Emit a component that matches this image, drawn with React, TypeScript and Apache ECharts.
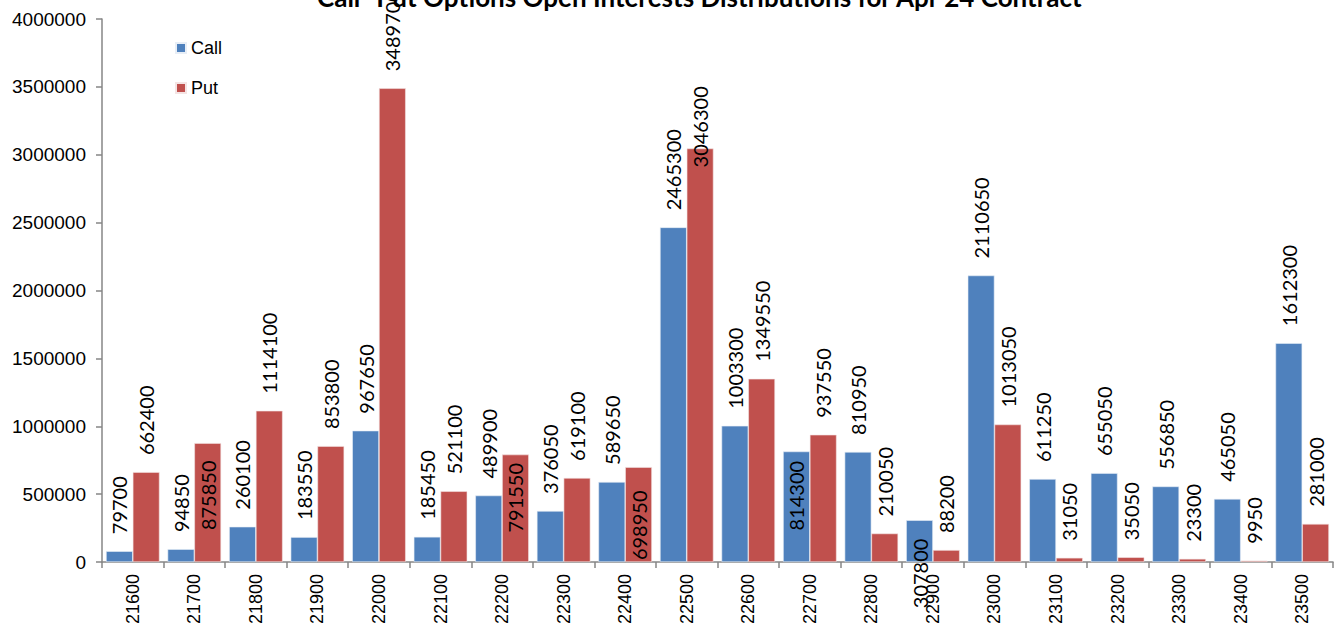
import React, { useEffect, useRef } from "react";
import * as echarts from "echarts";

const strikes = ["21600","21700","21800","21900","22000","22100","22200","22300","22400","22500","22600","22700","22800","22900","23000","23100","23200","23300","23400","23500"];
const callOI = [79700, 94850, 260100, 183550, 967650, 185450, 489900, 376050, 589650, 2465300, 1003300, 814300, 810950, 307800, 2110650, 611250, 655050, 556850, 465050, 1612300];
const putOI = [662400, 875850, 1114100, 853800, 3489700, 521100, 791550, 619100, 698950, 3046300, 1349550, 937550, 210050, 88200, 1013050, 31050, 35050, 23300, 9950, 281000];
const yTicks = { min: 0, max: 4000000, interval: 500000 };
const titleText = "Call -Put Options Open Interests Distributions for Apr 24 Contract";

// label vertical placement relative to bar top (px); default above the bar
const DEFAULT_SHIFT = -17;
const callLabelShift: Record<number, number> = { 11: 79, 13: 88 };
const putLabelShift: Record<number, number> = { 1: 87, 6: 78, 8: 93, 9: 19 };

export default function App() {
  const ref = useRef<HTMLDivElement>(null);
  useEffect(() => {
    if (!ref.current) return;
    const chart = echarts.init(ref.current, undefined, { renderer: "svg" });
    const labelBase = {
      show: true,
      rotate: 90,
      align: "left",
      verticalAlign: "middle",
      fontFamily: "Lato",
      fontSize: 20,
      color: "#000",
    };
    const mk = (vals: number[], shifts: Record<number, number>) =>
      vals.map((v, i) => ({
        value: v,
        label: { position: ["50%", shifts[i] ?? DEFAULT_SHIFT] },
      }));
    chart.setOption({
      animation: false,
      backgroundColor: "#fff",
      title: {
        text: titleText,
        left: 312,
        top: -21,
        textStyle: { fontFamily: "Lato", fontWeight: "bold", fontSize: 26, color: "#000" },
      },
      legend: {
        orient: "vertical",
        left: 170,
        top: 34,
        itemWidth: 10,
        itemHeight: 10,
        itemGap: 22,
        icon: "rect",
        textStyle: { fontFamily: "Liberation Sans", fontSize: 18, color: "#000" },
        data: ["Call", "Put"],
      },
      grid: { left: 102, right: 9, top: 19, bottom: 72, containLabel: false },
      xAxis: {
        type: "category",
        data: strikes,
        axisLine: { lineStyle: { color: "#868686", width: 1.5 } },
        axisTick: { show: true, length: 6, lineStyle: { color: "#868686", width: 1.5 } },
        axisLabel: { rotate: 90, fontFamily: "Liberation Sans", fontSize: 18, color: "#000", margin: 12 },
      },
      yAxis: {
        type: "value",
        min: yTicks.min,
        max: yTicks.max,
        interval: yTicks.interval,
        splitLine: { show: false },
        axisLine: { show: true, lineStyle: { color: "#868686", width: 1.5 } },
        axisTick: { show: true, length: 6, lineStyle: { color: "#868686", width: 1.5 } },
        axisLabel: {
          fontFamily: "Liberation Sans",
          fontSize: 19,
          color: "#000",
          margin: 16,
          formatter: (v: number) => String(v),
        },
      },
      series: [
        {
          name: "Call",
          type: "bar",
          data: mk(callOI, callLabelShift),
          itemStyle: { color: "#4F81BD", borderColor: "#e8eef6", borderWidth: 0.6 },
          barGap: "0%",
          barCategoryGap: "13%",
          label: labelBase,
        },
        {
          name: "Put",
          type: "bar",
          data: mk(putOI, putLabelShift),
          itemStyle: { color: "#C0504D", borderColor: "#f4e4e4", borderWidth: 0.6 },
          barGap: "0%",
          barCategoryGap: "13%",
          label: labelBase,
        },
      ],
    });
    return () => chart.dispose();
  }, []);
  return (
    <div
      ref={ref}
      style={{ position: "fixed", left: 0, top: 0, width: 1342, height: 634, background: "#fff" }}
    />
  );
}
